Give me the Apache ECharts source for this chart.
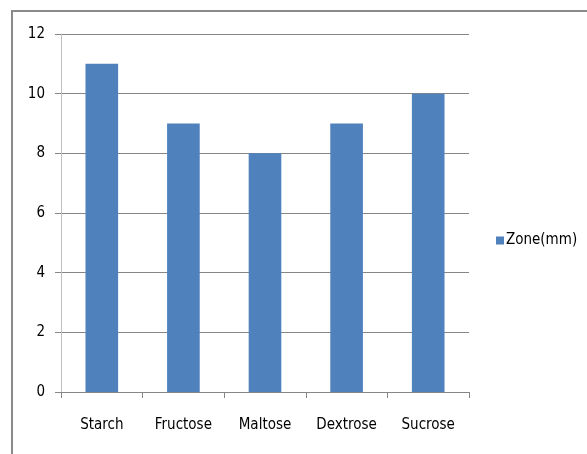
<!DOCTYPE html>
<html><head><meta charset="utf-8">
<script src="https://cdn.jsdelivr.net/npm/echarts@6/dist/echarts.min.js"></script>
<style>html,body{margin:0;padding:0;background:#fff}#c{width:587px;height:454px}</style>
</head><body><div id="c"></div>
<script>
const categories = ["Starch","Fructose","Maltose","Dextrose","Sucrose"];
const zoneValues = [11, 9, 8, 9, 10];
const seriesName = "Zone(mm)";
const FONT = '"Liberation Sans Narrow","DejaVu Sans Condensed",sans-serif';
const chart = echarts.init(document.getElementById('c'), null, {renderer:'canvas'});
chart.setOption({
  animation:false,
  backgroundColor:'#fff',
  graphic:[{type:'rect',shape:{x:12,y:11,width:700,height:600},style:{fill:'none',stroke:'#8a8a8a',lineWidth:2},silent:true}],
  legend:{data:[seriesName],left:491,top:228,orient:'vertical',icon:'rect',itemWidth:8,itemHeight:8,itemGap:4,
    textStyle:{fontFamily:FONT,fontSize:15,color:'#000',padding:[0,0,0,-3]}},
  grid:{left:61,right:118,top:34,bottom:62,containLabel:false},
  xAxis:{type:'category',data:categories,
    axisLine:{lineStyle:{color:'#868686',width:1}},
    axisTick:{show:true,length:6,interval:0,alignWithLabel:false,lineStyle:{color:'#868686'}},
    axisLabel:{interval:0,fontFamily:FONT,fontSize:15,color:'#000',margin:26}},
  yAxis:{type:'value',min:0,max:12,interval:2,
    axisLine:{show:true,lineStyle:{color:'#bfbfbf',width:1}},
    axisTick:{show:true,length:6,lineStyle:{color:'#868686'}},
    splitLine:{show:true,lineStyle:{color:'#868686',width:1}},
    axisLabel:{fontFamily:FONT,fontSize:15,color:'#000',margin:16}},
  series:[{name:seriesName,type:'bar',data:zoneValues,barWidth:'40%',itemStyle:{color:'#4F81BD'}}]
});
</script></body></html>
